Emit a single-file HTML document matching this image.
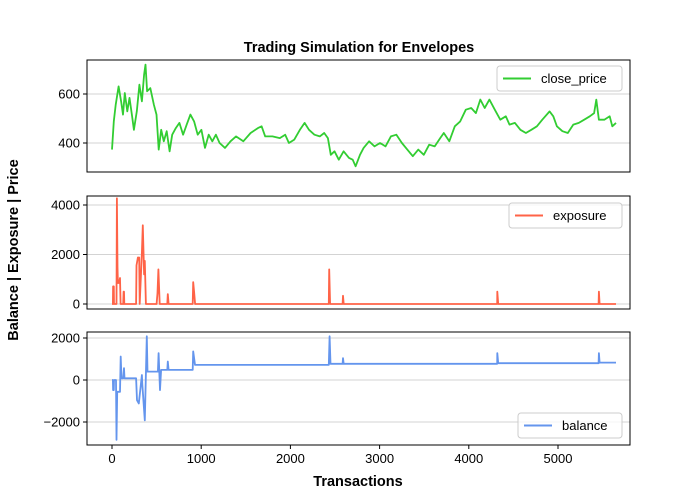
<!DOCTYPE html>
<html><head><meta charset="utf-8"><style>
body{margin:0;background:#fff}
svg{display:block;font-family:"Liberation Sans","DejaVu Sans",sans-serif}
</style></head><body>
<svg id="chart" width="700" height="500" viewBox="0 0 700 500" xmlns="http://www.w3.org/2000/svg">
<text x="359" y="52" text-anchor="middle" font-size="14.5" font-weight="bold">Trading Simulation for Envelopes</text>
<text transform="translate(18,250) rotate(-90)" text-anchor="middle" font-size="14.5" font-weight="bold">Balance | Exposure | Price</text>
<text x="358" y="486" text-anchor="middle" font-size="14.5" font-weight="bold">Transactions</text>
<g id="plots"></g>
</svg>
<script>
const priceT=[0,20,41,74,102,123,143,172,196,225,245,278,307,335,360,376,393,429,470,499,523,552,581,613,646,675,715,756,797,838,879,920,961,1002,1043,1084,1124,1165,1206,1267,1329,1390,1472,1554,1636,1677,1717,1799,1881,1942,1983,2044,2106,2159,2208,2269,2330,2379,2420,2453,2494,2543,2596,2657,2698,2731,2780,2821,2882,2943,3004,3066,3127,3188,3250,3311,3372,3434,3495,3556,3618,3679,3720,3781,3843,3904,3966,4027,4080,4129,4178,4231,4292,4353,4415,4456,4517,4579,4640,4701,4763,4824,4906,4947,4988,5049,5110,5172,5233,5294,5356,5405,5429,5458,5519,5580,5609,5650];
const priceV=[373,488,556,631,570,516,604,529,584,509,454,529,638,570,679,720,611,624,556,516,373,454,407,448,366,434,461,482,434,475,516,488,434,454,380,434,407,434,400,380,407,427,407,441,461,468,427,427,420,434,400,414,454,482,454,434,427,441,420,352,366,332,366,339,332,305,352,380,407,386,400,386,427,434,400,373,346,373,352,393,386,420,441,407,468,488,536,543,522,577,543,577,536,495,509,475,482,454,441,454,468,495,529,509,468,448,441,475,482,495,509,522,577,495,495,509,468,482];
const expT=[0,10,12,20,22,50,55,62,66,80,90,96,125,130,135,138,270,275,290,305,310,335,345,360,368,380,500,510,520,535,620,625,635,905,910,922,932,2430,2435,2445,2585,2590,2597,4318,4320,4330,5455,5458,5466,5650];
const expV=[0,0,710,710,0,0,4270,1500,850,850,1050,0,0,500,500,0,0,1560,1880,1880,0,2080,3180,1200,1740,0,0,440,1400,0,0,400,0,0,880,440,0,0,1400,0,0,330,0,0,500,0,0,500,0,0];
const balT=[0,10,12,20,22,45,50,58,90,98,106,125,135,140,270,280,300,335,340,368,390,398,515,522,538,550,620,625,635,905,910,930,2430,2440,2450,2585,2590,2597,4318,4320,4330,5455,5458,5466,5650];
const balV=[0,0,-480,-480,0,0,-2850,-560,-560,1120,80,80,560,80,80,-960,-1120,240,-200,-1920,2080,400,400,1280,-480,480,480,880,480,480,1360,720,720,2080,770,770,1040,770,770,1280,800,800,1280,830,830];
const xTicks=[0,1000,2000,3000,4000,5000];
const priceTicks=[400,600], expTicks=[0,2000,4000], balTicks=[-2000,0,2000];

const NS="http://www.w3.org/2000/svg";
const g=document.getElementById('plots');
const L=87,R=630;
const xs=t=>112+t*0.0892;
function mk(tag,attrs){const e=document.createElementNS(NS,tag);for(const k in attrs)e.setAttribute(k,attrs[k]);g.appendChild(e);return e;}
function panel(name,top,bot,v0,p0,v1,p1,ticks,T,V,color,label,leg,bottomAxis){
  const ys=v=>p0+(v-v0)*(p1-p0)/(v1-v0);
  ticks.forEach(tv=>{
    const y=ys(tv);
    const gl=mk('line',{x1:L,x2:R,y1:y,y2:y,stroke:'#d3d3d3','stroke-width':1});
    
    
    const tk=mk('line',{x1:L-4,x2:L,y1:y,y2:y,stroke:'#000'});
    
    
    const tx=mk('text',{x:L-7,y:y+4.5,'text-anchor':'end','font-size':'13'});
    tx.textContent=(tv<0?'\u2212':'')+Math.abs(tv);
    
    
  });
  const pts=T.map((t,i)=>xs(t).toFixed(1)+','+ys(V[i]).toFixed(1)).join(' ');
  const pl=mk('polyline',{points:pts,fill:'none',stroke:color,'stroke-width':1.8,'stroke-linejoin':'round'});
  
  
  const fr=mk('rect',{x:L,y:top,width:R-L,height:bot-top,fill:'none',stroke:'#000','stroke-width':1});
  
  
  const lb=mk('rect',{x:leg[0],y:leg[1],width:leg[2],height:25,rx:3,fill:'#fff','fill-opacity':0.8,stroke:'#ccc'});
  
  
  const ll=mk('line',{x1:leg[0]+6,x2:leg[0]+34,y1:leg[1]+12.5,y2:leg[1]+12.5,stroke:color,'stroke-width':2});
  
  
  const lt=mk('text',{x:leg[0]+44,y:leg[1]+17,'font-size':'13'});
  lt.textContent=label;
  
  
  if(bottomAxis){
    xTicks.forEach(t=>{
      const x=xs(t);
      const k=mk('line',{x1:x,x2:x,y1:bot,y2:bot+4,stroke:'#000'});
      
      
      const s=mk('text',{x:x,y:bot+18,'text-anchor':'middle','font-size':'13'});
      s.textContent=t;
      
      
    });
  }
}
panel('price',60,172,600,94,400,143,priceTicks,priceT,priceV,'#32cd32','close_price',[497,66,125],false);
panel('exposure',196,309,4000,205,0,304,expTicks,expT,expV,'#ff6347','exposure',[509,203,113],false);
panel('balance',332,445,2000,338,-2000,422,balTicks,balT,balV,'#6495ed','balance',[518,413,104],true);
</script>
</body></html>
